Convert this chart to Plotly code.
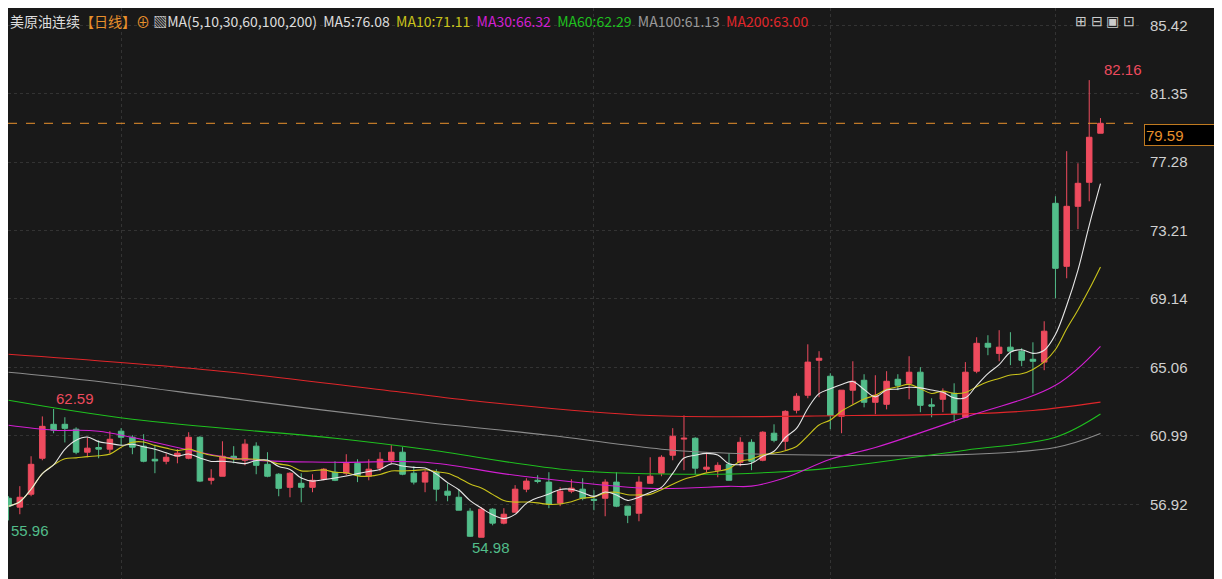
import plotly.graph_objects as go
import pandas as pd

# 日线 OHLC
opens = [57.28, 56.75, 57.52, 59.66, 61.68, 61.68, 61.39, 60.02, 60.30, 60.20,
         61.27, 60.91, 60.38, 59.60, 59.48, 59.78, 59.66, 60.91, 58.35, 58.59,
         59.78, 59.54, 60.38, 59.30, 58.71, 57.93, 58.17, 57.93, 58.41, 58.83,
         58.77, 59.36, 58.59, 59.07, 59.54, 60.02, 58.77, 58.24, 58.83, 57.70,
         57.34, 56.51, 54.96, 56.63, 55.80, 56.45, 57.82, 58.35, 58.24, 56.99,
         57.70, 57.82, 57.22, 57.28, 58.24, 56.81, 56.39, 58.17, 58.77, 59.84,
         60.80, 60.85, 59.01, 58.95, 59.30, 59.42, 60.61, 59.54, 61.15, 60.67,
         62.52, 63.41, 65.49, 64.54, 62.16, 63.71, 64.30, 62.99, 62.87, 64.36,
         64.12, 64.78, 62.84, 63.17, 63.53, 62.10, 64.84, 66.50, 65.90, 66.27,
         66.03, 65.55, 65.38, 74.83, 71.08, 74.65, 76.08, 79.00]
highs = [57.40, 58.00, 59.78, 62.15, 62.59, 62.10, 61.50, 60.90, 60.73, 61.27,
         61.45, 61.03, 61.09, 60.44, 59.96, 60.20, 61.21, 60.97, 59.01, 60.67,
         60.38, 60.79, 60.61, 60.02, 58.77, 58.83, 58.77, 58.71, 59.07, 59.48,
         59.90, 59.60, 59.60, 60.02, 60.44, 60.32, 59.18, 58.95, 59.01, 58.17,
         57.82, 56.69, 56.75, 56.69, 56.69, 58.06, 58.47, 58.65, 58.83, 57.93,
         58.41, 58.47, 57.76, 58.41, 58.83, 56.81, 58.59, 59.72, 59.84, 61.45,
         62.21, 60.91, 60.02, 59.42, 59.96, 60.91, 60.79, 61.27, 61.68, 62.52,
         63.53, 66.44, 66.03, 64.72, 63.71, 65.43, 64.66, 64.60, 64.84, 64.66,
         65.73, 65.08, 63.23, 63.82, 64.12, 65.38, 66.86, 66.98, 67.28, 67.16,
         66.21, 66.56, 67.81, 75.25, 77.93, 77.21, 82.16, 79.90]
lows = [55.96, 56.33, 57.40, 59.54, 61.15, 60.60, 59.90, 59.72, 59.66, 59.96,
        60.44, 59.90, 59.42, 58.77, 59.30, 59.36, 59.60, 58.24, 58.10, 58.59,
        59.36, 59.24, 58.71, 58.53, 57.40, 57.34, 57.04, 57.64, 58.35, 58.30,
        58.65, 58.24, 58.35, 58.89, 59.36, 58.65, 58.10, 57.64, 57.10, 57.10,
        56.57, 54.98, 54.96, 55.67, 55.73, 56.45, 57.64, 58.17, 56.69, 56.81,
        57.58, 57.16, 56.57, 56.21, 56.75, 55.80, 55.91, 58.17, 58.59, 59.54,
        58.95, 58.71, 58.83, 58.53, 58.35, 59.18, 58.95, 59.48, 60.61, 60.14,
        62.33, 63.23, 63.29, 61.39, 61.15, 62.87, 62.69, 62.28, 62.57, 63.71,
        63.17, 62.40, 62.10, 62.40, 61.80, 62.10, 64.72, 65.79, 65.43, 65.20,
        65.14, 63.53, 64.90, 69.18, 70.37, 73.29, 74.95, 79.00]
closes = [56.81, 57.34, 59.30, 61.56, 61.33, 61.44, 60.02, 60.26, 60.20, 60.79,
          60.91, 60.32, 59.48, 59.50, 59.72, 59.96, 60.91, 58.30, 58.47, 59.78,
          59.66, 60.50, 59.24, 58.59, 57.87, 58.77, 57.93, 58.35, 59.01, 58.35,
          59.36, 58.65, 59.01, 59.60, 60.02, 58.71, 58.24, 58.83, 57.82, 57.46,
          56.57, 55.02, 56.63, 55.80, 56.33, 57.82, 58.30, 58.28, 56.93, 57.70,
          57.88, 57.28, 57.16, 58.24, 56.81, 56.27, 58.24, 58.59, 59.72, 60.97,
          60.85, 59.07, 59.13, 59.24, 58.35, 60.61, 59.48, 61.21, 60.73, 62.45,
          63.35, 65.38, 65.61, 62.21, 63.71, 64.24, 62.99, 63.41, 64.24, 64.00,
          64.78, 62.81, 62.76, 63.59, 62.33, 64.78, 66.50, 66.27, 66.27, 66.03,
          65.49, 65.43, 67.22, 70.96, 74.65, 76.02, 78.76, 79.59]

# long moving averages at a few bars
ma30_idx = [0, 4, 8, 20, 29, 37, 45, 57, 64, 66, 69, 73, 77, 85, 93, 97]
ma30_val = [61.62, 61.33, 61.27, 59.66, 59.42, 59.42, 58.65, 57.87, 57.99, 58.0, 58.5, 59.6, 60.3, 62.1, 64.0, 66.32]
ma60_idx = [0, 11, 29, 37, 50, 62, 68, 73, 85, 93, 97]
ma60_val = [63.11, 61.98, 60.85, 60.2, 58.95, 58.71, 58.83, 59.07, 60.14, 60.91, 62.29]
ma100_idx = [0, 7, 21, 37, 48, 58, 64, 73, 83, 93, 97]
ma100_val = [64.78, 64.3, 63.11, 61.8, 61.03, 60.2, 59.96, 59.84, 59.84, 60.3, 61.13]
ma200_idx = [0, 18, 36, 41, 57, 75, 85, 91, 97]
ma200_val = [65.85, 64.9, 63.5, 63.1, 62.2, 62.2, 62.3, 62.5, 63.0]

ticks = [85.42, 81.35, 77.28, 73.21, 69.14, 65.06, 60.99, 56.92]
last_price = 79.59

RED = "#ee4b5e"
GREEN = "#52bd8a"
BG = "#191919"

x = list(range(len(closes)))
s = pd.Series(closes)
ma5 = s.rolling(5, min_periods=1).mean()
ma10 = s.rolling(10, min_periods=1).mean()

fig = go.Figure()
fig.add_trace(go.Candlestick(
    x=x, open=opens, high=highs, low=lows, close=closes,
    increasing=dict(line=dict(color=RED, width=1), fillcolor=RED),
    decreasing=dict(line=dict(color=GREEN, width=1), fillcolor=GREEN),
    whiskerwidth=0, showlegend=False))

for xs, ys, col in [(ma200_idx, ma200_val, "#e0262a"), (ma100_idx, ma100_val, "#8c8c8c"),
                    (ma60_idx, ma60_val, "#1fc01f"), (ma30_idx, ma30_val, "#d21fd2"),
                    (x, ma10, "#c9c31b"), (x, ma5, "#e6e6e6")]:
    fig.add_trace(go.Scatter(x=xs, y=ys, mode="lines", line=dict(color=col, width=1.1),
                             line_shape="spline", showlegend=False, hoverinfo="skip"))

fig.add_hline(y=last_price, line=dict(color="#e8902c", width=1, dash="dash"))

ann = [
    (97, 82.16, "82.16", RED, "left", "bottom", 2),
    (4, 62.59, "62.59", RED, "left", "bottom", 0),
    (0, 55.96, "55.96", GREEN, "left", "top", 0),
    (41, 54.98, "54.98", GREEN, "left", "top", 0),
]
for ax, ay, t, c, xa, ya, dx in ann:
    fig.add_annotation(x=ax, y=ay, text=t, showarrow=False, xanchor=xa, yanchor=ya,
                       xshift=dx, font=dict(color=c, size=15, family="Arial"))

fig.add_annotation(x=1, xref="paper", y=last_price, yref="y", text="79.59", showarrow=False,
                   xanchor="left", yanchor="top", xshift=3, yshift=-1, bgcolor="#000000",
                   bordercolor="#c07a20", borderwidth=1, width=78, height=18, align="left",
                   font=dict(color="#e8902c", size=15, family="Arial"))

title = ("<span style='color:#dddddd'>美原油连续</span>"
         "<span style='color:#e8902c'>【日线】⊕</span> "
         "<span style='color:#dddddd'>▧MA(5,10,30,60,100,200)  MA5:76.08</span>  "
         "<span style='color:#c9c31b'>MA10:71.11</span>  "
         "<span style='color:#d21fd2'>MA30:66.32</span>  "
         "<span style='color:#1fc01f'>MA60:62.29</span>  "
         "<span style='color:#9a9a9a'>MA100:61.13</span>  "
         "<span style='color:#e0262a'>MA200:63.00</span>")
fig.add_annotation(x=0, xref="paper", y=1, yref="paper", text=title, showarrow=False,
                   xanchor="left", yanchor="top", xshift=0, yshift=-1,
                   font=dict(size=14, family="Noto Sans CJK SC"))
fig.add_annotation(x=1, xref="paper", y=1, yref="paper", text="⊞ ⊟ ▣ ⊡", showarrow=False,
                   xanchor="right", yanchor="top", yshift=-1, xshift=-4,
                   font=dict(size=14, color="#cccccc"))

fig.update_layout(
    width=1222, height=579, paper_bgcolor=BG, plot_bgcolor=BG,
    margin=dict(l=0, r=89, t=0, b=0),
    xaxis=dict(range=[-0.05, 100.6], rangeslider=dict(visible=False),
               tickvals=[10, 52, 73, 93], showticklabels=False, showgrid=True,
               gridcolor="#333333", griddash="dot", zeroline=False, showline=False),
    yaxis=dict(range=[52.0, 86.45], side="right", tickvals=ticks,
               ticktext=[f"{t:.2f}" for t in ticks], showgrid=True,
               gridcolor="#333333", griddash="dot", zeroline=False,
               tickfont=dict(color="#d0d0d0", size=15, family="Arial"), ticklabelstandoff=8),
)

fig.write_html("out.html")
